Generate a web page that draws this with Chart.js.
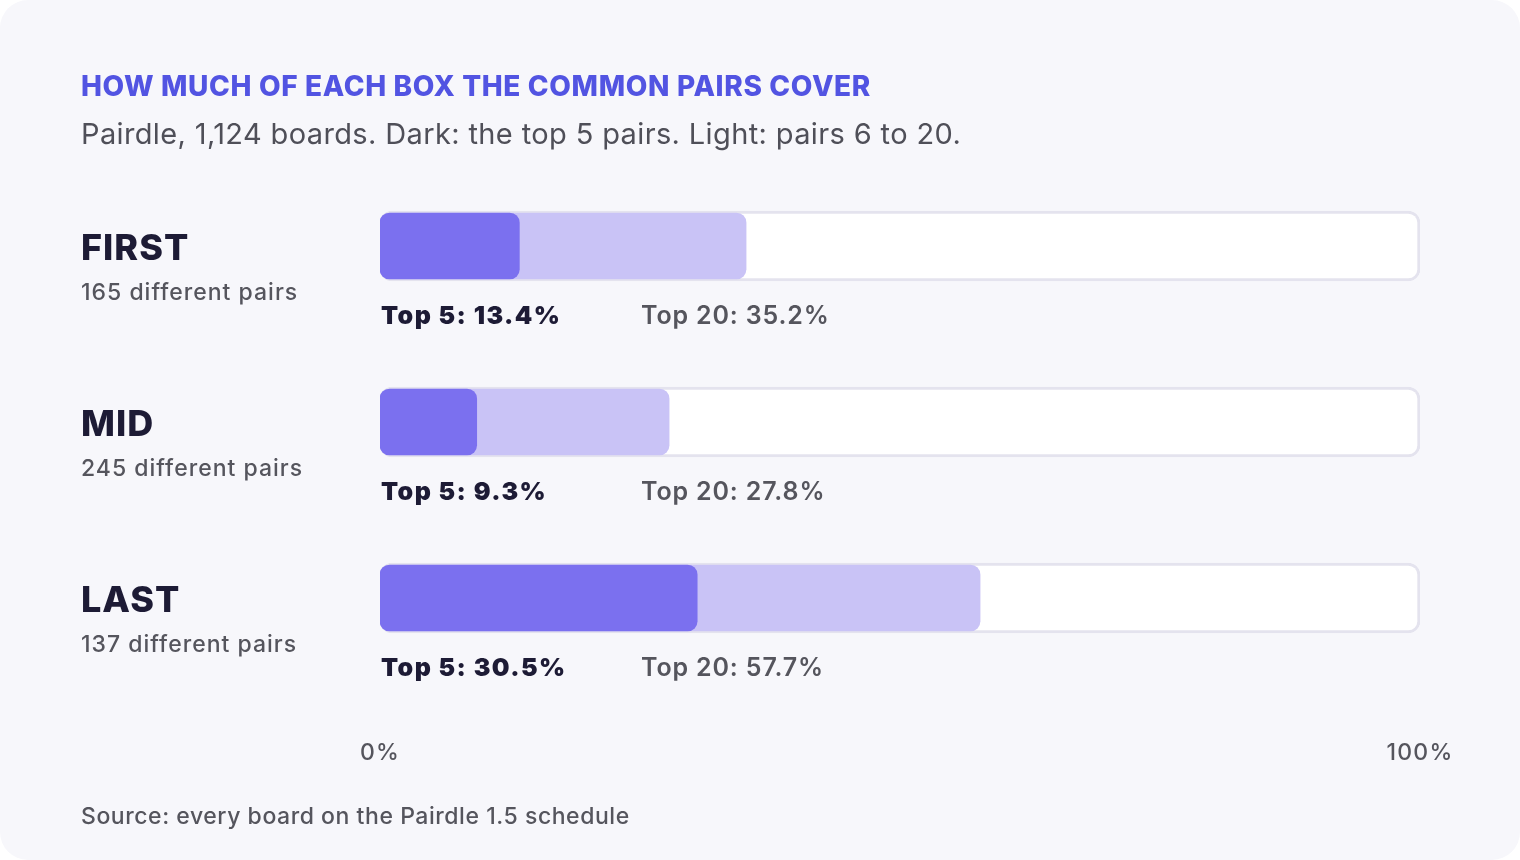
<!DOCTYPE html>
<html>
<head>
<meta charset="utf-8">
<script src="https://cdn.jsdelivr.net/npm/chart.js@4.4.1/dist/chart.umd.min.js"></script>
<style>
  html, body { margin: 0; padding: 0; background: #ffffff; }
  #card {
    position: relative; width: 1520px; height: 860px;
    background: #f7f7fb; border-radius: 28px; overflow: hidden;
    font-family: Inter, "Noto Sans", sans-serif;
  }
  #chart { position: absolute; left: 0; top: 0; }
  .title { position: absolute; left: 81px; top: 69px; font-size: 28px; font-weight: 800; color: #5254e2; letter-spacing: 0.65px; }
  .sub { position: absolute; left: 81px; top: 116px; font-size: 29px; font-weight: 400; color: #4f4f58; letter-spacing: 0.37px; }
  .src { position: absolute; left: 81px; top: 802px; font-size: 23px; font-weight: 500; color: #55555d; letter-spacing: 0.55px; }
</style>
</head>
<body>
<div id="card">
  <canvas id="chart" width="1520" height="860"></canvas>
  <div class="title">HOW MUCH OF EACH BOX THE COMMON PAIRS COVER</div>
  <div class="sub">Pairdle, 1,124 boards. Dark: the top 5 pairs. Light: pairs 6 to 20.</div>
  <div class="src">Source: every board on the Pairdle 1.5 schedule</div>
</div>
<script>
// data
var boxes = ["FIRST", "MID", "LAST"];
var pairCounts = [165, 245, 137];
var top5 = [13.4, 9.3, 30.5];
var top20 = [35.2, 27.8, 57.7];
var full = [100, 100, 100];
var axisTicks = [0, 100];

var ink = "#1d1b35";
var grey = "#55555d";

// row names, counts and values next to the bars
var rowText = {
  id: "rowText",
  afterDatasetsDraw: function(chart) {
    var ctx = chart.ctx;
    var xs = chart.scales.x, ys = chart.scales.y;
    var x0 = xs.getPixelForValue(0);
    ctx.save();
    for (var i = 0; i < boxes.length; i++) {
      var cy = ys.getPixelForValue(i);
      ctx.textAlign = "left";
      ctx.textBaseline = "alphabetic";
      ctx.fillStyle = ink;
      ctx.font = "800 36px Inter";
      ctx.letterSpacing = "1px";
      ctx.fillText(boxes[i], 81, cy + 14);

      ctx.textBaseline = "middle";
      ctx.fillStyle = grey;
      ctx.font = "500 23px Inter";
      ctx.letterSpacing = "1px";
      ctx.fillText(pairCounts[i] + " different pairs", 81, cy + 47);

      ctx.fillStyle = ink;
      ctx.font = "900 25px Inter";
      ctx.letterSpacing = "1.4px";
      ctx.fillText("Top 5: " + top5[i].toFixed(1) + "%", x0 + 1, cy + 70);

      ctx.fillStyle = grey;
      ctx.font = "600 25px Inter";
      ctx.letterSpacing = "0.85px";
      ctx.fillText("Top 20: " + top20[i].toFixed(1) + "%", x0 + 261, cy + 70);
    }
    // axis ends
    ctx.textAlign = "center";
    ctx.fillStyle = grey;
    ctx.font = "500 23px Inter";
    ctx.letterSpacing = "1.2px";
    axisTicks.forEach(function(t) {
      ctx.fillText(t + "%", xs.getPixelForValue(t), chart.chartArea.bottom + 67);
    });
    ctx.restore();
  }
};

var ctx = document.getElementById("chart");
new Chart(ctx, {
  type: "bar",
  data: {
    labels: boxes,
    datasets: [
      {
        label: "Top 5",
        data: top5,
        backgroundColor: "#7b70ef",
        borderRadius: 10,
        borderSkipped: false,
        barThickness: 66,
        grouped: false
      },
      {
        label: "Top 20",
        data: top20,
        backgroundColor: "#c9c3f6",
        borderRadius: 10,
        borderSkipped: false,
        barThickness: 66,
        grouped: false
      },
      {
        label: "Box",
        data: full,
        backgroundColor: "#ffffff",
        borderColor: "#e4e3ee",
        borderWidth: 3,
        borderRadius: 12,
        borderSkipped: false,
        barThickness: 70,
        grouped: false
      }
    ]
  },
  options: {
    indexAxis: "y",
    responsive: false,
    animation: false,
    layout: { padding: { left: 380, right: 100, top: 158, bottom: 174 } },
    plugins: { legend: { display: false }, tooltip: { enabled: false } },
    scales: {
      x: { min: 0, max: 100, display: false },
      y: { display: false }
    }
  },
  plugins: [rowText]
});
</script>
</body>
</html>
